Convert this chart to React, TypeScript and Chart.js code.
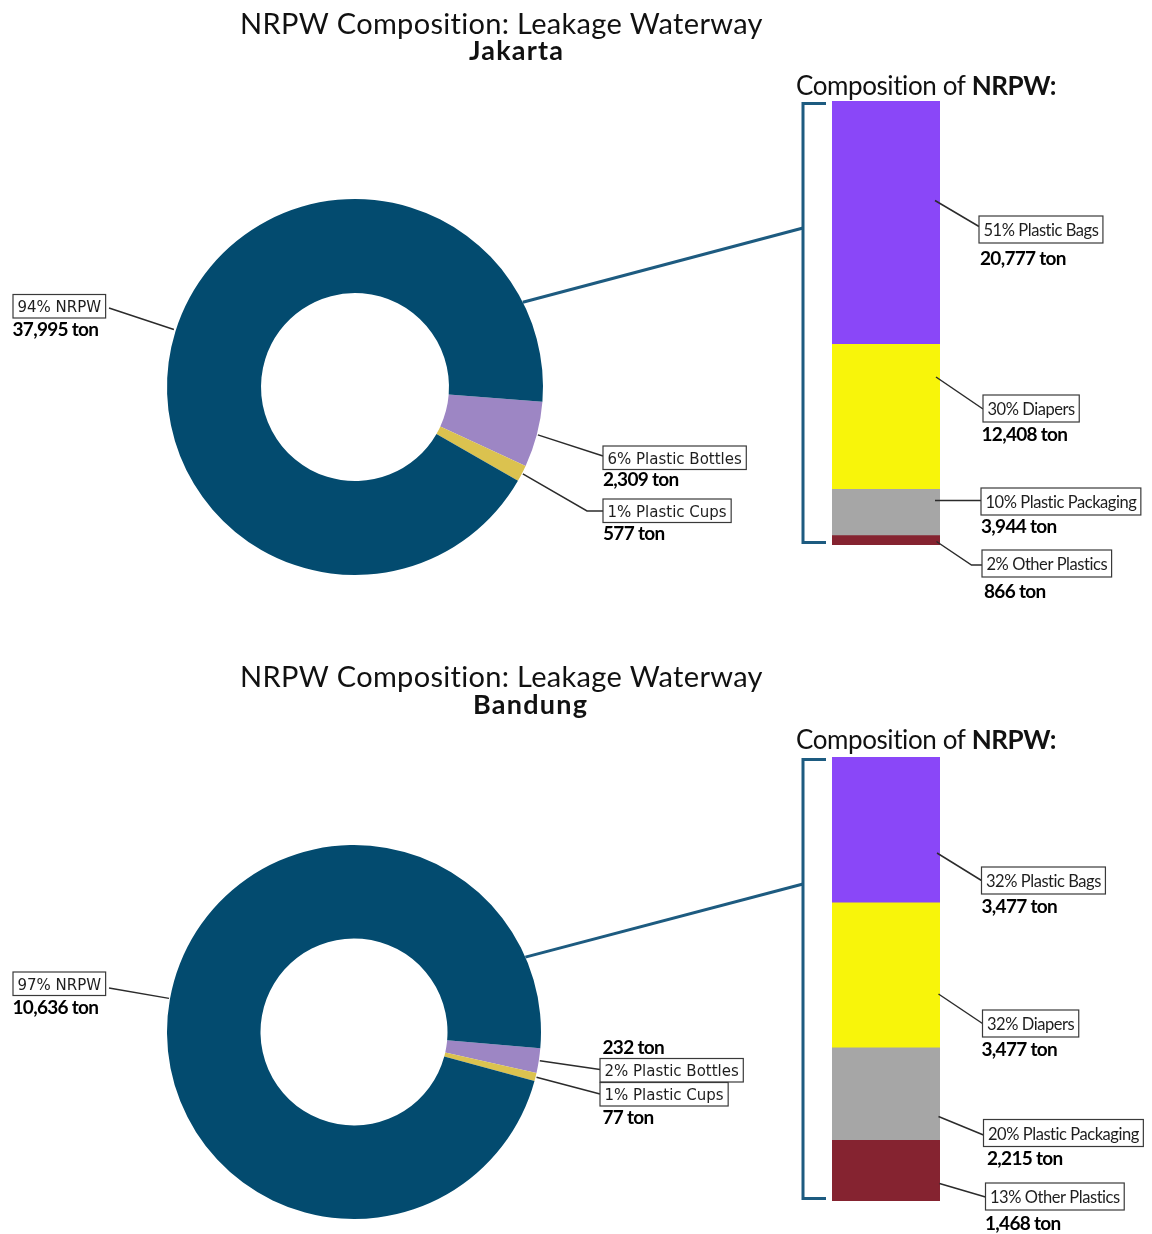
import React, { useEffect, useRef } from 'react';
import { Chart, registerables } from 'chart.js';

Chart.register(...registerables);

const W = 1152;
const H = 1234;

// ---------- data ----------
const TITLE = 'NRPW Composition: Leakage Waterway';
const SUBTITLE_PREFIX = 'Composition of ';
const SUBTITLE_BOLD = 'NRPW:';
const PIE_CATEGORIES = ['Plastic Bottles', 'Plastic Cups', 'NRPW'];
const BAR_CATEGORIES = ['Plastic Bags', 'Diapers', 'Plastic Packaging', 'Other Plastics'];

const jakartaPieTons = [2309, 577, 37995];
const jakartaPiePct = [6, 1, 94];
const jakartaBarTons = [20777, 12408, 3944, 866];
const jakartaBarPct = [51, 30, 10, 2];

const bandungPieTons = [232, 77, 10636];
const bandungPiePct = [2, 1, 97];
const bandungBarTons = [3477, 3477, 2215, 1468];
const bandungBarPct = [32, 32, 20, 13];

// ---------- styles ----------
const PIE_COLORS = ['#9d86c4', '#dbc24f', '#034b6f'];
const BAR_COLORS = ['#8a47f8', '#f8f50a', '#a6a6a6', '#852330'];
const BRACKET_COLOR = '#1d5b80';
const LINE_COLOR = '#2b2b2b';
const SANS = 'Lato, "Open Sans", sans-serif';
const PIE_FONT = '"DejaVu Sans", Verdana, sans-serif';

type Pt = [number, number];

interface PieLabelLayout {
  anchorDeg?: number;
  anchorPad?: number;
  path: Pt[];
  boxLeft: number;
  baseline: number;
  tonX: number;
  tonBaseline: number;
}
interface BarLabelLayout {
  from: Pt;
  path: Pt[];
  boxLeft: number;
  baseline: number;
  tonX: number;
  tonBaseline: number;
}
interface Panel {
  city: string;
  pieTons: number[];
  piePct: number[];
  barTons: number[];
  barPct: number[];
  pie: { left: number; top: number; size: number; rotation: number };
  bar: { left: number; right: number; top: number; bottom: number };
  titleLeft: number;
  titleWidth: number;
  titleBaseline: number;
  cityLeft: number;
  cityWidth: number;
  cityBaseline: number;
  subLeft: number;
  subWidth: number;
  subBaseline: number;
  connectorDeg: number;
  bracketX: number;
  bracketTick: number;
  joinY: number;
  pieLabels: PieLabelLayout[];
  barLabels: BarLabelLayout[];
}

const PANELS: Panel[] = [
  {
    city: 'Jakarta',
    pieTons: jakartaPieTons,
    piePct: jakartaPiePct,
    barTons: jakartaBarTons,
    barPct: jakartaBarPct,
    pie: { left: 167, top: 199, size: 376, rotation: 94.5 },
    bar: { left: 832, right: 940, top: 101, bottom: 545 },
    titleLeft: 240,
    titleWidth: 523,
    titleBaseline: 33.5,
    cityLeft: 469,
    cityWidth: 94,
    cityBaseline: 59.5,
    subLeft: 796,
    subWidth: 261,
    subBaseline: 95,
    connectorDeg: -26.8,
    bracketX: 803,
    bracketTick: 826,
    joinY: 228,
    pieLabels: [
      { path: [[603, 456]], boxLeft: 603, baseline: 463.5, tonX: 603, tonBaseline: 486 },
      { path: [[587, 511], [603, 511]], boxLeft: 603, baseline: 516.5, tonX: 603, tonBaseline: 539.5 },
      { anchorDeg: 197.6, anchorPad: 2, path: [[109, 308]], boxLeft: 13, baseline: 312, tonX: 12.5, tonBaseline: 336 },
    ],
    barLabels: [
      { from: [935, 200.5], path: [[979, 226.5]], boxLeft: 979, baseline: 236, tonX: 980, tonBaseline: 265 },
      { from: [936, 377], path: [[983, 409]], boxLeft: 983, baseline: 415, tonX: 981.5, tonBaseline: 440.5 },
      { from: [935, 500.5], path: [[981, 500.5]], boxLeft: 981, baseline: 508, tonX: 981, tonBaseline: 533 },
      { from: [936.5, 541.5], path: [[971.5, 565], [982, 565]], boxLeft: 982, baseline: 570, tonX: 984, tonBaseline: 598 },
    ],
  },
  {
    city: 'Bandung',
    pieTons: bandungPieTons,
    piePct: bandungPiePct,
    barTons: bandungBarTons,
    barPct: bandungBarPct,
    pie: { left: 167, top: 845, size: 374, rotation: 95 },
    bar: { left: 832, right: 940, top: 757, bottom: 1201 },
    titleLeft: 240,
    titleWidth: 523,
    titleBaseline: 687,
    cityLeft: 473,
    cityWidth: 114,
    cityBaseline: 714,
    subLeft: 796,
    subWidth: 261,
    subBaseline: 749,
    connectorDeg: -23.6,
    bracketX: 803,
    bracketTick: 826,
    joinY: 884,
    pieLabels: [
      { path: [[600, 1069.5]], boxLeft: 600, baseline: 1076, tonX: 602.5, tonBaseline: 1054 },
      { path: [[600, 1094]], boxLeft: 600, baseline: 1100, tonX: 602.5, tonBaseline: 1124 },
      { anchorDeg: 190.3, anchorPad: 1, path: [[109, 988]], boxLeft: 13, baseline: 989.5, tonX: 12.5, tonBaseline: 1013.5 },
    ],
    barLabels: [
      { from: [937, 853], path: [[981.5, 880.5]], boxLeft: 981.5, baseline: 887, tonX: 981.5, tonBaseline: 912.5 },
      { from: [938.5, 994], path: [[982.5, 1023.5]], boxLeft: 982.5, baseline: 1030, tonX: 981.5, tonBaseline: 1056 },
      { from: [938.5, 1116.5], path: [[983.5, 1135]], boxLeft: 983.5, baseline: 1139.5, tonX: 987, tonBaseline: 1165 },
      { from: [939.5, 1183.5], path: [[985.5, 1197]], boxLeft: 985.5, baseline: 1203, tonX: 985, tonBaseline: 1230 },
    ],
  },
];

// ---------- drawing helpers ----------
function fillFit(ctx: CanvasRenderingContext2D, text: string, x: number, y: number, font: string, width?: number, spacing = 0) {
  const c: any = ctx;
  ctx.font = font;
  c.letterSpacing = '0px';
  let ls = spacing;
  if (width) {
    const w = ctx.measureText(text).width;
    ls = (width - w) / Math.max(1, text.length - 1);
  }
  c.letterSpacing = ls + 'px';
  ctx.fillText(text, x, y);
  c.letterSpacing = '0px';
}

function polyline(ctx: CanvasRenderingContext2D, pts: Pt[], color: string, width: number) {
  ctx.save();
  ctx.strokeStyle = color;
  ctx.lineWidth = width;
  ctx.lineJoin = 'miter';
  ctx.beginPath();
  pts.forEach((p, i) => (i === 0 ? ctx.moveTo(p[0], p[1]) : ctx.lineTo(p[0], p[1])));
  ctx.stroke();
  ctx.restore();
}

function boxedText(ctx: CanvasRenderingContext2D, text: string, left: number, baseline: number, font: string, padX: number, up: number, h: number, spacing = 0) {
  const c: any = ctx;
  ctx.save();
  ctx.font = font;
  c.letterSpacing = spacing + 'px';
  const w = ctx.measureText(text).width;
  ctx.fillStyle = '#ffffff';
  ctx.fillRect(left, baseline - up, w + padX * 2, h);
  ctx.strokeStyle = '#3a3a3a';
  ctx.lineWidth = 1.2;
  ctx.strokeRect(left, baseline - up, w + padX * 2, h);
  ctx.fillStyle = '#1e1e1e';
  ctx.textAlign = 'left';
  ctx.textBaseline = 'alphabetic';
  ctx.fillText(text, left + padX, baseline);
  c.letterSpacing = '0px';
  ctx.restore();
}

function tonText(ctx: CanvasRenderingContext2D, tons: number, x: number, baseline: number) {
  ctx.save();
  ctx.fillStyle = '#000000';
  ctx.textAlign = 'left';
  ctx.textBaseline = 'alphabetic';
  fillFit(ctx, `${tons.toLocaleString('en-US')} ton`, x, baseline, `bold 19px ${SANS}`, undefined, -0.7);
  ctx.restore();
}

function pieAnnotations(p: Panel) {
  return {
    id: 'pieAnnotations' + p.city,
    afterDraw(chart: any) {
      const ctx: CanvasRenderingContext2D = chart.ctx;
      ctx.save();
      ctx.textAlign = 'left';
      ctx.textBaseline = 'alphabetic';
      ctx.fillStyle = '#111111';
      fillFit(ctx, TITLE, p.titleLeft, p.titleBaseline, `29px ${SANS}`, p.titleWidth);
      fillFit(ctx, p.city, p.cityLeft, p.cityBaseline, `bold 27px ${SANS}`, p.cityWidth);
      ctx.restore();

      const meta = chart.getDatasetMeta(0);
      meta.data.forEach((arc: any, i: number) => {
        const { x, y, startAngle, endAngle, outerRadius } = arc.getProps(['x', 'y', 'startAngle', 'endAngle', 'outerRadius'], true);
        const L = p.pieLabels[i];
        const ang = L.anchorDeg !== undefined ? (L.anchorDeg * Math.PI) / 180 : (startAngle + endAngle) / 2;
        const r = outerRadius + (L.anchorPad ?? 1);
        const a: Pt = [x + r * Math.cos(ang), y + r * Math.sin(ang)];
        polyline(ctx, [a, ...L.path], LINE_COLOR, 1.5);
        boxedText(ctx, `${p.piePct[i]}% ${PIE_CATEGORIES[i]}`, L.boxLeft, L.baseline, `15px ${PIE_FONT}`, 4.5, 17.5, 23.5);
        tonText(ctx, p.pieTons[i], L.tonX, L.tonBaseline);
      });

      // connector from doughnut to bracket
      const first = meta.data[0].getProps(['x', 'y', 'outerRadius'], true);
      const ca = (p.connectorDeg * Math.PI) / 180;
      polyline(
        ctx,
        [
          [first.x + first.outerRadius * Math.cos(ca), first.y + first.outerRadius * Math.sin(ca)],
          [p.bracketX, p.joinY],
        ],
        BRACKET_COLOR,
        3
      );
    },
  };
}

function barAnnotations(p: Panel) {
  return {
    id: 'barAnnotations' + p.city,
    afterDraw(chart: any) {
      const ctx: CanvasRenderingContext2D = chart.ctx;
      const area = chart.chartArea;
      // subtitle
      ctx.save();
      ctx.textAlign = 'left';
      ctx.textBaseline = 'alphabetic';
      ctx.fillStyle = '#111111';
      const c: any = ctx;
      ctx.font = `26px ${SANS}`;
      c.letterSpacing = '0px';
      const w1 = ctx.measureText(SUBTITLE_PREFIX).width;
      ctx.font = `bold 26px ${SANS}`;
      const w2 = ctx.measureText(SUBTITLE_BOLD).width;
      const n = SUBTITLE_PREFIX.length + SUBTITLE_BOLD.length - 1;
      const ls = (p.subWidth - w1 - w2) / n;
      c.letterSpacing = ls + 'px';
      ctx.font = `26px ${SANS}`;
      ctx.fillText(SUBTITLE_PREFIX, p.subLeft, p.subBaseline);
      const w1s = ctx.measureText(SUBTITLE_PREFIX).width;
      ctx.font = `bold 26px ${SANS}`;
      ctx.fillText(SUBTITLE_BOLD, p.subLeft + w1s, p.subBaseline);
      c.letterSpacing = '0px';
      ctx.restore();

      // bracket
      const top = area.top + 2.5;
      const bottom = area.bottom - 2.5;
      polyline(
        ctx,
        [
          [p.bracketTick, top],
          [p.bracketX, top],
          [p.bracketX, bottom],
          [p.bracketTick, bottom],
        ],
        BRACKET_COLOR,
        3
      );

      // labels
      p.barLabels.forEach((L, i) => {
        polyline(ctx, [L.from, ...L.path], LINE_COLOR, 1.5);
        boxedText(ctx, `${p.barPct[i]}% ${BAR_CATEGORIES[i]}`, L.boxLeft, L.baseline, `16.5px ${SANS}`, 4.5, 20, 27, -0.45);
        tonText(ctx, p.barTons[i], L.tonX, L.tonBaseline);
      });
    },
  };
}

function makePie(canvas: HTMLCanvasElement, p: Panel) {
  return new Chart(canvas, {
    type: 'doughnut',
    data: {
      labels: PIE_CATEGORIES,
      datasets: [
        {
          data: p.pieTons,
          backgroundColor: PIE_COLORS,
          borderWidth: 0,
          hoverOffset: 0,
          offset: 0,
        } as any,
      ],
    },
    options: {
      responsive: false,
      animation: false,
      events: [],
      rotation: p.pie.rotation,
      cutout: '50%',
      layout: {
        padding: {
          left: p.pie.left,
          top: p.pie.top,
          right: W - p.pie.left - p.pie.size,
          bottom: H - p.pie.top - p.pie.size,
        },
      },
      plugins: { legend: { display: false }, tooltip: { enabled: false } },
    } as any,
    plugins: [pieAnnotations(p)],
  });
}

function makeBar(canvas: HTMLCanvasElement, p: Panel) {
  const total = p.barTons.reduce((s, v) => s + v, 0);
  return new Chart(canvas, {
    type: 'bar',
    data: {
      labels: [p.city],
      datasets: BAR_CATEGORIES.map((c, i) => ({
        label: c,
        data: [p.barTons[i]],
        backgroundColor: BAR_COLORS[i],
        borderWidth: 0,
        barPercentage: 1,
        categoryPercentage: 1,
      })),
    },
    options: {
      responsive: false,
      animation: false,
      events: [],
      layout: {
        padding: { left: p.bar.left, right: W - p.bar.right, top: p.bar.top, bottom: H - p.bar.bottom },
      },
      scales: {
        x: { stacked: true, display: false },
        y: { stacked: true, display: false, reverse: true, min: 0, max: total },
      },
      plugins: { legend: { display: false }, tooltip: { enabled: false } },
    } as any,
    plugins: [barAnnotations(p)],
  });
}

const canvasStyle: React.CSSProperties = { position: 'absolute', left: 0, top: 0, width: W, height: H };

export default function App() {
  const pie1 = useRef<HTMLCanvasElement>(null);
  const bar1 = useRef<HTMLCanvasElement>(null);
  const pie2 = useRef<HTMLCanvasElement>(null);
  const bar2 = useRef<HTMLCanvasElement>(null);

  useEffect(() => {
    document.body.style.margin = '0';
    document.body.style.background = '#ffffff';
    const charts = [
      makePie(pie1.current!, PANELS[0]),
      makeBar(bar1.current!, PANELS[0]),
      makePie(pie2.current!, PANELS[1]),
      makeBar(bar2.current!, PANELS[1]),
    ];
    return () => charts.forEach((c) => c.destroy());
  }, []);

  return (
    <div style={{ position: 'relative', width: W, height: H, background: '#fff', overflow: 'hidden' }}>
      <canvas ref={pie1} width={W} height={H} style={canvasStyle} />
      <canvas ref={pie2} width={W} height={H} style={canvasStyle} />
      <canvas ref={bar1} width={W} height={H} style={canvasStyle} />
      <canvas ref={bar2} width={W} height={H} style={canvasStyle} />
    </div>
  );
}
